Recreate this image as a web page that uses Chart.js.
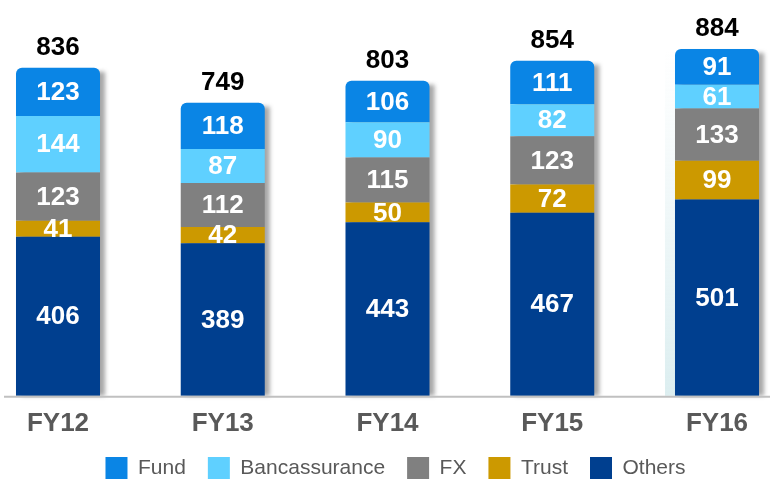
<!doctype html>
<html lang="en">
<head>
    <meta charset="utf-8">
    <title>Fee income FY12-FY16</title>
    <script src="https://cdn.jsdelivr.net/npm/chart.js@4.4.0/dist/chart.umd.min.js"></script>
    <style>
        html, body { margin: 0; padding: 0; background: #fff; overflow: hidden; }
        #wrap { width: 773px; height: 479px; position: relative; }
    </style>
</head>
<body>
<div id="wrap">
    <canvas id="chart"></canvas>
</div>
<script>
    // data, bottom of stack first
    let years = ['FY12', 'FY13', 'FY14', 'FY15', 'FY16'];
    let others = [406, 389, 443, 467, 501];
    let trust = [41, 42, 50, 72, 99];
    let fx = [123, 112, 115, 123, 133];
    let banca = [144, 87, 90, 82, 61];
    let fund = [123, 118, 106, 111, 91];
    let totals = [836, 749, 803, 854, 884];

    const FONT = "'Liberation Sans', Arial, sans-serif";

    // grey drop shadow on the right of every stack, faint glow behind the last one
    const shadowPlugin = {
        id: 'shadow',
        afterLayout(chart) {
            // nudge the legend closer to the axis labels and a bit to the right
            if (chart.legend) {
                chart.legend.top -= 8;
                chart.legend.bottom -= 8;
                chart.legend.left += 9;
                chart.legend.right += 9;
            }
        },
        beforeDatasetsDraw(chart) {
            const ctx = chart.ctx;
            const first = chart.getDatasetMeta(0).data;
            const last = chart.getDatasetMeta(chart.data.datasets.length - 1).data;
            ctx.save();
            const b = first[first.length - 1];
            const t = last[last.length - 1].y;
            const g = ctx.createLinearGradient(0, t, 0, b.base);
            g.addColorStop(0, 'rgba(225,240,242,0)');
            g.addColorStop(1, 'rgba(220,238,240,1)');
            ctx.fillStyle = g;
            ctx.fillRect(b.x - b.width / 2 - 10, t, b.width + 10, b.base - t);

            ctx.filter = 'blur(2px)';
            ctx.fillStyle = 'rgba(60,60,60,0.45)';
            first.forEach((bar, i) => {
                const top = last[i].y;
                const w = bar.width;
                ctx.fillRect(bar.x - w / 2 + 5, top + 4, w, bar.base - top - 4);
            });
            ctx.restore();
        }
    };

    // axis line + value labels
    const labelPlugin = {
        id: 'labels',
        afterDatasetsDraw(chart) {
            const ctx = chart.ctx;
            const area = chart.chartArea;
            ctx.save();
            ctx.strokeStyle = '#c0c0c0';
            ctx.lineWidth = 2;
            ctx.beginPath();
            ctx.moveTo(4, area.bottom + 1);
            ctx.lineTo(770, area.bottom + 1);
            ctx.stroke();

            ctx.textAlign = 'center';
            ctx.textBaseline = 'middle';
            ctx.font = 'bold 26px ' + FONT;
            ctx.fillStyle = '#ffffff';
            chart.data.datasets.forEach((ds, di) => {
                chart.getDatasetMeta(di).data.forEach((bar, i) => {
                    const mid = (bar.y + bar.base) / 2;
                    ctx.fillText(ds.data[i], bar.x, mid + 1);
                });
            });
            const last = chart.getDatasetMeta(chart.data.datasets.length - 1).data;
            ctx.fillStyle = '#000000';
            last.forEach((bar, i) => {
                ctx.fillText(totals[i], bar.x, bar.y - 20);
            });
            ctx.restore();
        }
    };

    new Chart(document.getElementById('chart'), {
        type: 'bar',
        data: {
            labels: years,
            datasets: [
                { label: 'Others', data: others, backgroundColor: '#003f8f' },
                { label: 'Trust', data: trust, backgroundColor: '#cc9900' },
                { label: 'FX', data: fx, backgroundColor: '#808080' },
                { label: 'Bancassurance', data: banca, backgroundColor: '#5fd0ff' },
                { label: 'Fund', data: fund, backgroundColor: '#0a85e5' }
            ]
        },
        options: {
            responsive: true,
            maintainAspectRatio: false,
            animation: false,
            layout: { padding: { top: 0, left: 0, right: 0, bottom: -18 } },
            datasets: {
                bar: {
                    categoryPercentage: 1,
                    barPercentage: 0.51,
                    borderRadius: 6,
                    clip: false
                }
            },
            scales: {
                x: {
                    stacked: true,
                    offset: false,
                    afterFit(scale) { scale.paddingLeft = 58; scale.paddingRight = 56; },
                    grid: { display: false },
                    border: { display: false },
                    ticks: {
                        color: '#595959',
                        padding: 4,
                        font: { family: FONT, size: 26, weight: 'bold' }
                    }
                },
                y: {
                    stacked: true,
                    display: false,
                    min: 0,
                    max: 1010
                }
            },
            plugins: {
                legend: {
                    position: 'bottom',
                    reverse: true,
                    labels: {
                        color: '#595959',
                        boxWidth: 22,
                        boxHeight: 22,
                        padding: 22,
                        font: { family: FONT, size: 21 }
                    }
                },
                tooltip: { enabled: false }
            }
        },
        plugins: [shadowPlugin, labelPlugin]
    });
</script>
</body>
</html>
